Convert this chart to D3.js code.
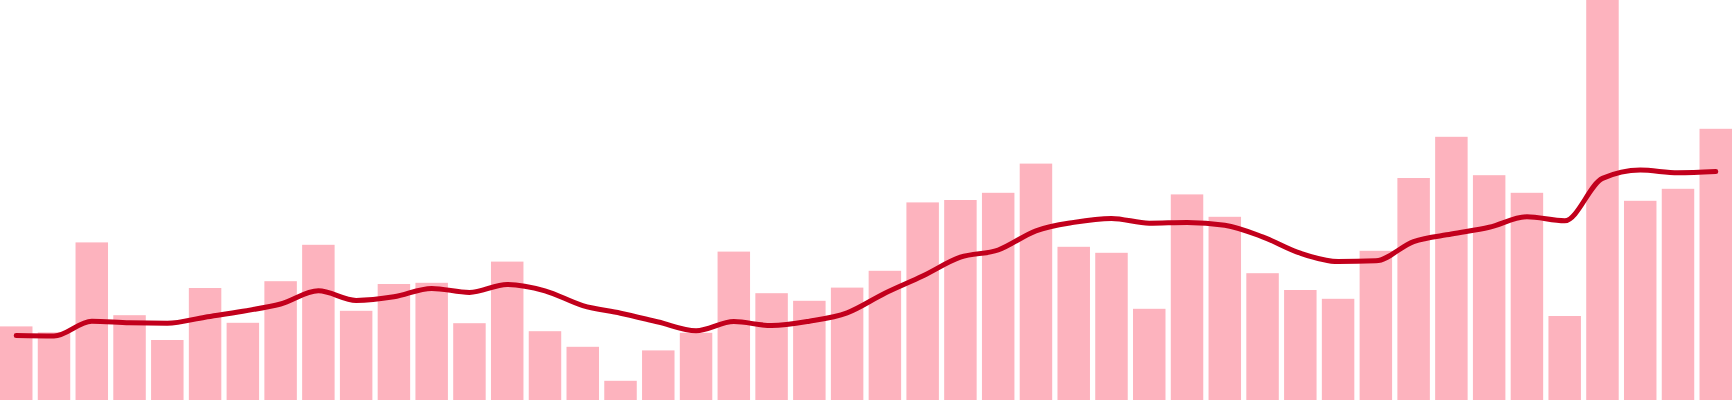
<!DOCTYPE html>
<html>
<head>
<meta charset="utf-8">
<script src="https://cdn.jsdelivr.net/npm/d3@7"></script>
<style>
  html, body { margin: 0; padding: 0; background: #fff; overflow: hidden; }
  svg { display: block; }
</style>
</head>
<body>
<svg id="chart" width="1732" height="400"></svg>
<script>
// Period index for each bar (46 periods)
const categories = d3.range(1, 47).map(String);

// Bar values (per period)
const barValues = [
  18.4, 16.9, 39.4, 21.2, 15.0, 28.0, 19.3, 29.7, 38.8, 22.3,
  29.0, 29.3, 19.2, 34.6, 17.2, 13.3, 4.8, 12.4, 16.8, 37.1,
  26.7, 24.8, 28.1, 32.3, 49.4, 50.0, 51.8, 59.1, 38.3, 36.8,
  22.8, 51.4, 45.8, 31.7, 27.5, 25.3, 37.3, 55.5, 65.8, 56.2,
  51.8, 21.0, 100.0, 49.8, 52.8, 67.8
];

// Smoothed trend line values (per period)
const trendValues = [
  16.1, 16.0, 19.7, 19.3, 19.2, 20.7, 22.2, 24.0, 27.3, 24.9,
  25.8, 27.9, 26.9, 28.9, 27.3, 23.6, 21.7, 19.5, 17.3, 19.6,
  18.6, 19.7, 21.8, 26.7, 31.0, 35.7, 37.5, 42.3, 44.4, 45.4,
  44.2, 44.4, 43.7, 40.8, 36.7, 34.6, 34.8, 39.6, 41.5, 43.2,
  45.8, 44.8, 55.4, 57.5, 56.8, 57.1
];

const W = 1732, H = 400;
const svg = d3.select("#chart");

const x = d3.scaleBand()
  .domain(categories)
  .range([0, W])
  .paddingInner(0.14)
  .paddingOuter(0);

const y = d3.scaleLinear()
  .domain([0, d3.max(barValues)])
  .range([H, 0]);

svg.append("g")
  .selectAll("rect")
  .data(barValues)
  .join("rect")
  .attr("x", (d, i) => x(categories[i]))
  .attr("y", d => y(d))
  .attr("width", x.bandwidth())
  .attr("height", d => H - y(d))
  .attr("fill", "#fdb3be");

const line = d3.line()
  .x((d, i) => x(categories[i]) + x.bandwidth() / 2)
  .y(d => y(d))
  .curve(d3.curveMonotoneX);

svg.append("path")
  .datum(trendValues)
  .attr("d", line)
  .attr("fill", "none")
  .attr("stroke", "#c2001c")
  .attr("stroke-width", 5)
  .attr("stroke-linecap", "round")
  .attr("stroke-linejoin", "round");
</script>
</body>
</html>
